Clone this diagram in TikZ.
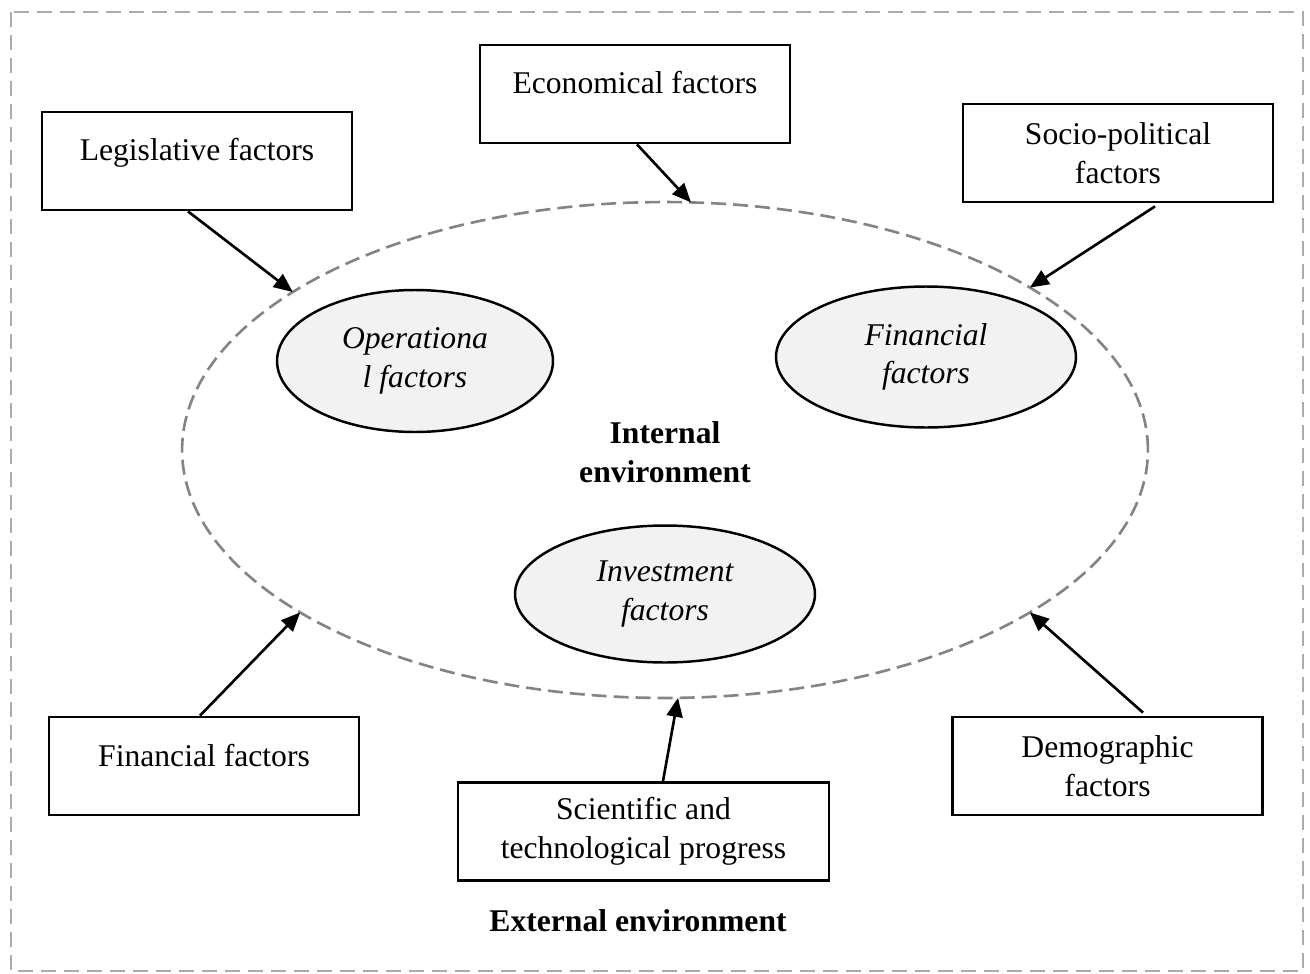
\documentclass[tikz,border=0pt]{standalone}
\usepackage{fontspec}
\setmainfont{Liberation Serif}
\usetikzlibrary{shapes.geometric,arrows.meta,calc}
\definecolor{framegray}{HTML}{ABABAB}
\definecolor{ringgray}{HTML}{848484}
\definecolor{blobfill}{HTML}{F2F2F2}
\begin{document}
\begin{tikzpicture}[x=0.02cm,y=-0.02cm,
  every node/.style={font=\fontsize{18}{22}\selectfont},
  factorbox/.style={draw=black,line width=1.6pt,rectangle,minimum width=6.2cm,
    inner xsep=0pt,inner ysep=0pt,align=center},
  onelinebox/.style={factorbox,text height=0.98cm,text depth=0.98cm},
  twolinebox/.style={factorbox,minimum height=1.96cm},
  innerblob/.style={ellipse,draw=black,line width=1.4pt,fill=blobfill,
    inner sep=0pt,align=center,font=\fontsize{18}{22}\selectfont\itshape},
  envring/.style={ellipse,draw=ringgray,line width=1.5pt,
    dash pattern=on 0.3cm off 0.14cm,inner sep=0pt,outer sep=0pt,
    minimum width=19.32cm,minimum height=9.92cm},
  influence/.style={line width=1.5pt,-{Triangle[length=0.38cm,width=0.32cm]}},
  heading/.style={font=\fontsize{18}{22}\selectfont\bfseries,align=center}
]
\useasboundingbox (0,0) rectangle (1310,973);

% outer frame: the external environment
\draw[framegray,line width=1.5pt,dash pattern=on 0.3cm off 0.16cm]
  (11,12) rectangle (1303,971);

% internal environment ring
\node[envring] (env) at (665,450) {};

% internal factors
\node[innerblob,minimum width=5.52cm,minimum height=2.84cm] (oper) at (415,361)
  {Operationa\\l factors};
\node[innerblob,minimum width=6.0cm,minimum height=2.82cm] (finblob) at (926,357)
  {Financial\\factors};
\node[innerblob,minimum width=6.0cm,minimum height=2.74cm] (invest) at (665,594)
  {Investment\\factors};
\node[heading] (internal) at (665,452) {Internal\\environment};

% external factors
\node[onelinebox] (legis) at (197,161) {Legislative factors};
\node[onelinebox] (econ) at (635,94) {Economical factors};
\node[twolinebox] (socio) at (1118,153) {Socio-political\\factors};
\node[onelinebox] (finbox) at (204,766) {Financial factors};
\node[twolinebox,minimum width=7.42cm] (sci) at (643.5,831.5)
  {Scientific and\\technological progress};
\node[twolinebox] (demo) at (1107.5,766) {Demographic\\factors};
\node[heading] (external) at (638,921) {External environment};

% influences on the internal environment
\draw[influence] ($(legis.south)+(-9,0)$) -- (env.157.3);
\draw[influence] ($(econ.south)+(2,0)$) -- (env.84.4);
\draw[influence] ($(socio.south)+(37,3)$) -- (env.24.7);
\draw[influence] ($(finbox.north)+(-4,0)$) -- (env.204.5);
\draw[influence] ($(sci.north)+(19.5,0)$) -- (env.273);
\draw[influence] ($(demo.north)+(35.5,-3)$) -- (env.336);
\end{tikzpicture}
\end{document}
